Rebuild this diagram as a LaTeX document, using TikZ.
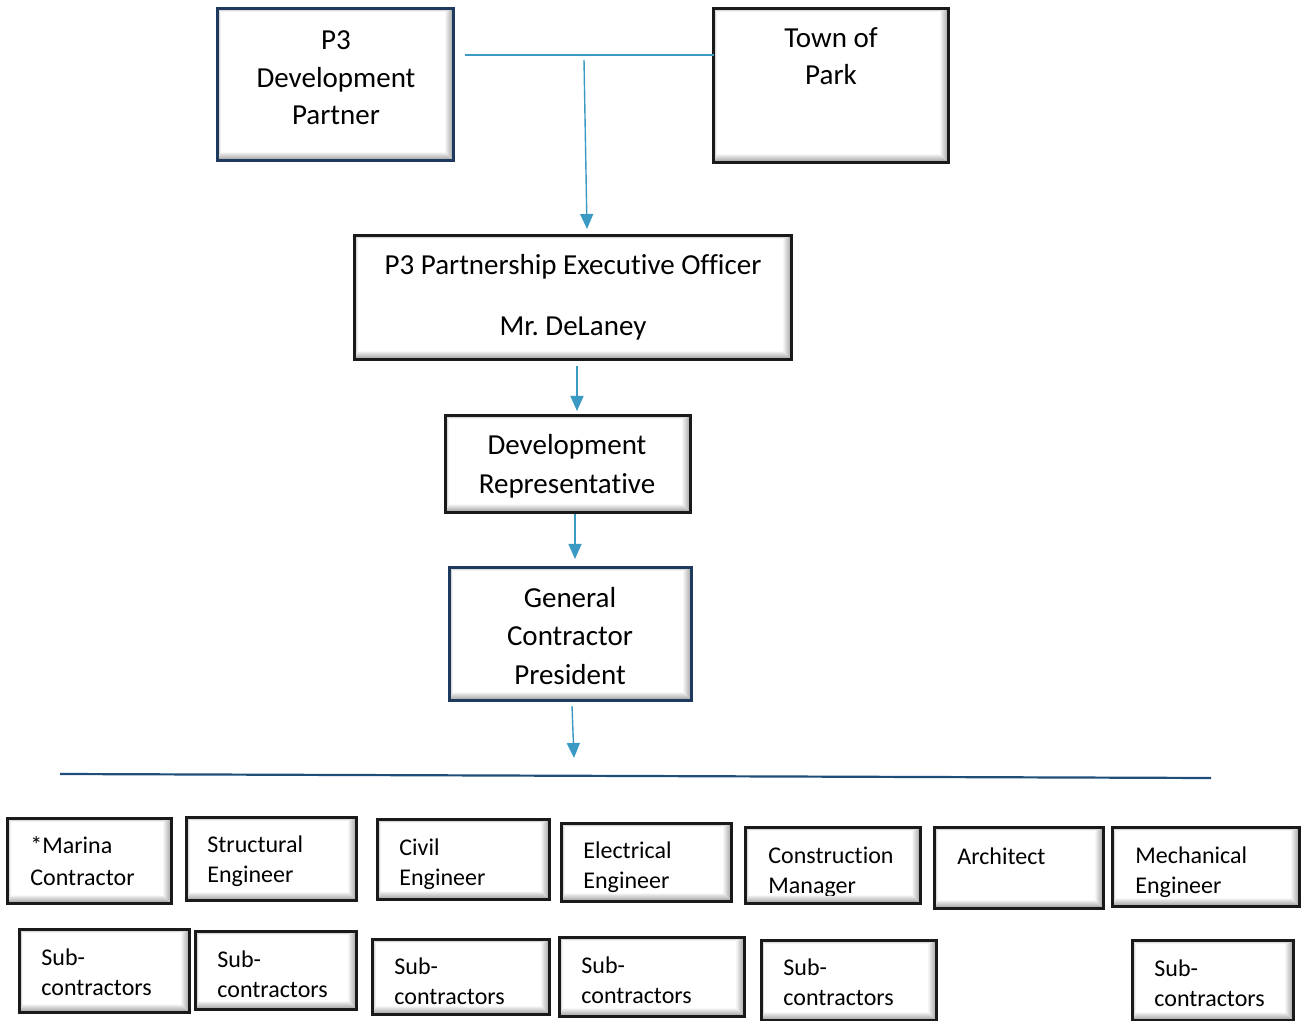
\documentclass[tikz,border=0pt]{standalone}
\usepackage{fontspec}
\setmainfont{Carlito}[Ligatures=NoCommon]
\usetikzlibrary{fit,calc,arrows.meta}
\definecolor{arrowblue}{HTML}{3A9AC4}
\definecolor{lineblue}{HTML}{1F4E79}
\definecolor{navyborder}{HTML}{1F3A5F}
\definecolor{blackborder}{HTML}{1A1A1A}
\frenchspacing
\tikzset{
  toptext/.style={font=\fontsize{14.5}{18.75}\selectfont, align=center, inner sep=0pt, anchor=base},
  bottext/.style={font=\fontsize{12}{14.75}\selectfont, align=left, inner sep=0pt, anchor=base west},
  flowarrow/.style={draw=arrowblue, line width=0.7pt, -{Triangle[width=6.5pt,length=7.5pt]}},
  thinline/.style={draw=arrowblue, line width=0.6pt},
  divider/.style={draw=lineblue, line width=1.1pt},
}
\newcommand{\bevbox}[6]{%
  \node[fit={(#2,#3)(#4,#5)}, inner sep=0pt, fill=white] (#1) {};
  \shade[left color=gray!10, right color=gray!75]
    ($(#1.north east)+(-4pt,-1.5pt)$) -- (#1.north east) -- (#1.south east) -- ($(#1.south east)+(-4pt,4pt)$) -- cycle;
  \shade[top color=gray!10, bottom color=gray!80]
    ($(#1.south west)+(1.5pt,4pt)$) -- (#1.south west) -- (#1.south east) -- ($(#1.south east)+(-4pt,4pt)$) -- cycle;
  \shade[top color=gray!50, bottom color=gray!5]
    (#1.north west) -- (#1.north east) -- ($(#1.north east)+(-4pt,-1.5pt)$) -- ($(#1.north west)+(1.5pt,-1.5pt)$) -- cycle;
  \shade[left color=gray!50, right color=gray!5]
    (#1.north west) -- ($(#1.north west)+(1.5pt,-1.5pt)$) -- ($(#1.south west)+(1.5pt,4pt)$) -- (#1.south west) -- cycle;
  \draw[#6, line width=1.2pt] (#1.south west) rectangle (#1.north east);
}
\begin{document}
\begin{tikzpicture}[x=0.5pt, y=-0.5pt]
\useasboundingbox (0,0) rectangle (1307,1021);

% top boxes (text anchored at baseline of last line)
\bevbox{p3dp}{218}{9}{453}{160}{navyborder}
\node[toptext] (p3dpt) at (336,125) {P3\\Development\\Partner};
\bevbox{town}{714}{9}{948}{162}{blackborder}
\node[toptext, font=\fontsize{14.5}{18.5}\selectfont] (townt) at (831,85) {Town of\\Park};
\bevbox{peo}{355}{236}{791}{359}{blackborder}
\node[toptext] (peot) at (573,336) {P3 Partnership Executive Officer\\[11.75pt]Mr. DeLaney};
\bevbox{devrep}{446}{416}{690}{512}{blackborder}
\node[toptext, font=\fontsize{14.5}{19.5}\selectfont] (devrept) at (567,494) {Development\\Representative};
\bevbox{gcp}{450}{568}{691}{700}{navyborder}
\node[toptext, font=\fontsize{14.5}{19.25}\selectfont] (gcpt) at (570,684) {General\\Contractor\\President};

% connectors
\coordinate (hl) at (465,55);
\draw[thinline] (hl) -- (hl -| town.west);
\coordinate (a1s) at (584,60);
\coordinate (a1e) at (587,229);
\draw[flowarrow] (a1s) -- (a1e);
\coordinate (a2s) at (577,366);
\coordinate (a2e) at (577,411);
\draw[flowarrow] (a2s) -- (a2e);
\coordinate (a3s) at (575,514);
\coordinate (a3e) at (575,559);
\draw[flowarrow] (a3s) -- (a3e);
\coordinate (a4s) at (572,706);
\coordinate (a4e) at (574,758);
\draw[flowarrow] (a4s) -- (a4e);
\coordinate (dl) at (60,774);
\coordinate (dr) at (1211,778);
\draw[divider] (dl) -- (dr);

% bottom row 1
\bevbox{marina}{8}{819}{171}{903}{blackborder}
\node[bottext, font=\fontsize{12}{16}\selectfont] (marinat) at (30,885) {*Marina\\Contractor};
\bevbox{struct}{187}{818}{356}{900}{blackborder}
\node[bottext] (structt) at (207,882) {Structural\\Engineer};
\bevbox{civil}{378}{820}{549}{899}{blackborder}
\node[bottext] (civilt) at (399,885) {Civil\\Engineer};
\bevbox{elec}{562}{824}{731}{901}{blackborder}
\node[bottext] (elect) at (583,888) {Electrical\\Engineer};
\bevbox{cm}{746}{828}{920}{903}{blackborder}
\begin{scope}
\clip (748,830) rectangle (918,895);
\node[bottext] (cmt) at (768,893) {Construction\\Manager};
\end{scope}
\bevbox{arch}{935}{828}{1103}{908}{blackborder}
\node[bottext] (archt) at (957,864) {Architect};
\bevbox{mech}{1113}{828}{1299}{906}{blackborder}
\node[bottext] (mecht) at (1135,893) {Mechanical\\Engineer};

% bottom row 2
\bevbox{subA}{20}{930}{189}{1012}{blackborder}
\node[bottext] (subAt) at (41,995) {Sub-\\contractors};
\bevbox{subB}{196}{932}{356}{1009}{blackborder}
\node[bottext] (subBt) at (217,997) {Sub-\\contractors};
\bevbox{subC}{373}{940}{549}{1014}{blackborder}
\node[bottext] (subCt) at (394,1004) {Sub-\\contractors};
\bevbox{subD}{560}{938}{744}{1016}{blackborder}
\node[bottext] (subDt) at (581,1003) {Sub-\\contractors};
\bevbox{subE}{762}{941}{936}{1020}{blackborder}
\node[bottext] (subEt) at (783,1005) {Sub-\\contractors};
\bevbox{subG}{1133}{941}{1293}{1020}{blackborder}
\node[bottext] (subGt) at (1154,1006) {Sub-\\contractors};
\end{tikzpicture}
\end{document}
